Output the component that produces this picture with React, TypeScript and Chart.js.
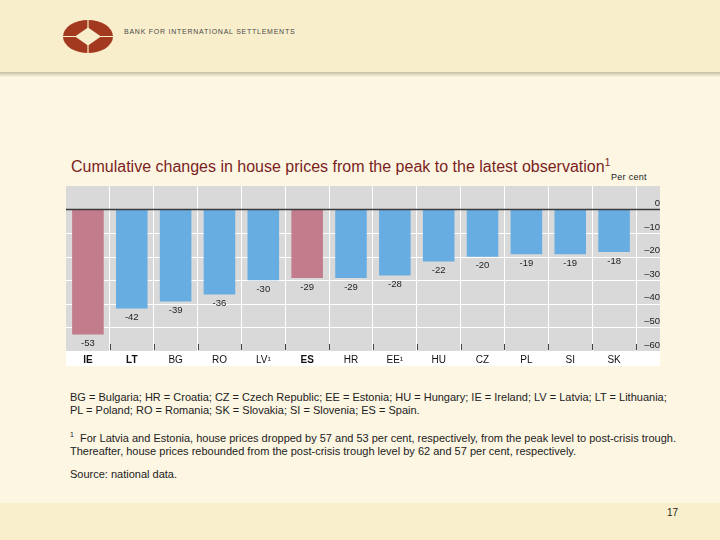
import React, { useEffect, useRef } from 'react'
import Chart from 'chart.js/auto'

// Country codes and cumulative change (per cent) from peak to latest observation
const countries = ['IE', 'LT', 'BG', 'RO', 'LV¹', 'ES', 'HR', 'EE¹', 'HU', 'CZ', 'PL', 'SI', 'SK']
const changes = [-53, -42, -39, -36, -30, -29, -29, -28, -22, -20, -19, -19, -18]
const highlighted = ['IE', 'ES']
const yMin = -60
const yMax = 10
const yStep = 10

const BLUE = '#68ade2'
const PINK = '#c27c8c'
const GREY = '#d9d9d9'

const pageFont = '"Liberation Sans", Arial, sans-serif'

const App = () => {
  const chartRef = useRef<HTMLCanvasElement>(null)

  useEffect(() => {
    if (!chartRef.current) return
    const ctx = chartRef.current.getContext('2d')
    if (!ctx) return

    // backgrounds, extended gridlines, zero line, bottom ticks and value labels
    const decor = {
      id: 'decor',
      beforeDraw(chart: any) {
        const { ctx, chartArea, width, height } = chart
        ctx.save()
        ctx.fillStyle = GREY
        ctx.fillRect(chartArea.left, chartArea.top, width - chartArea.left, chartArea.bottom - chartArea.top)
        ctx.fillStyle = '#ffffff'
        ctx.fillRect(chartArea.left, chartArea.bottom, width - chartArea.left, height - chartArea.bottom)
        ctx.restore()
      },
      beforeDatasetsDraw(chart: any) {
        const { ctx, chartArea, width } = chart
        const y = chart.scales.y
        ctx.save()
        ctx.strokeStyle = '#ffffff'
        ctx.lineWidth = 1
        y.ticks.forEach((t: any) => {
          if (t.value === 0 || t.value === yMax) return
          const py = Math.round(y.getPixelForValue(t.value)) + 0.5
          ctx.beginPath()
          ctx.moveTo(chartArea.left, py)
          ctx.lineTo(width, py)
          ctx.stroke()
        })
        ctx.restore()
      },
      afterDatasetsDraw(chart: any) {
        const { ctx, chartArea, width } = chart
        const x = chart.scales.x
        const y = chart.scales.y
        ctx.save()
        // zero line
        const zy = y.getPixelForValue(0)
        ctx.strokeStyle = '#3a3a3a'
        ctx.lineWidth = 1.5
        ctx.beginPath()
        ctx.moveTo(chartArea.left, zy)
        ctx.lineTo(width, zy)
        ctx.stroke()
        // short dark ticks at category boundaries
        ctx.strokeStyle = '#444'
        ctx.lineWidth = 1
        for (let i = 1; i <= countries.length; i++) {
          const bx = Math.round((x.getPixelForValue(i - 1) + x.getPixelForValue(i)) / 2) + 0.5
          ctx.beginPath()
          ctx.moveTo(bx, chartArea.bottom - 7)
          ctx.lineTo(bx, chartArea.bottom - 1)
          ctx.stroke()
        }
        // value labels under bar ends
        ctx.fillStyle = '#1e1e1e'
        ctx.font = `9.5px ${pageFont}`
        ctx.textAlign = 'center'
        ctx.textBaseline = 'middle'
        chart.getDatasetMeta(0).data.forEach((bar: any, i: number) => {
          ctx.fillText(String(changes[i]), bar.x, bar.y + 9)
        })
        ctx.restore()
      },
    }

    const chart = new Chart(ctx, {
      type: 'bar',
      data: {
        labels: countries,
        datasets: [
          {
            data: changes,
            backgroundColor: countries.map((c) => (highlighted.includes(c) ? PINK : BLUE)),
            borderWidth: 0,
            barPercentage: 0.72,
            categoryPercentage: 1,
          },
        ],
      },
      options: {
        animation: false,
        responsive: false,
        maintainAspectRatio: false,
        layout: { padding: 0 },
        plugins: {
          legend: { display: false },
          tooltip: { enabled: false },
        },
        scales: {
          x: {
            border: { display: false },
            grid: {
              display: true,
              color: '#ffffff',
              lineWidth: 1,
              drawTicks: false,
              offset: true,
            },
            ticks: {
              padding: 3,
              color: '#111',
              font: (c: any) => ({
                size: 10,
                family: pageFont,
                weight: ['IE', 'LT', 'ES'].includes(countries[c.index]) ? 'bold' : 'normal',
              }),
            },
            afterFit: (scale: any) => {
              scale.height = 15
            },
          },
          y: {
            position: 'right',
            min: yMin,
            max: yMax,
            border: { display: false },
            grid: { display: false, drawTicks: false },
            ticks: {
              stepSize: yStep,
              padding: 2,
              crossAlign: 'far',
              labelOffset: -6,
              color: '#222',
              font: { size: 9.5, family: pageFont },
              callback: (v: any) => {
                if (v === yMax) return null
                if (v === 0) return '0'
                return '\u2013' + Math.abs(v)
              },
            },
            afterFit: (scale: any) => {
              scale.width = 24
              scale.paddingTop = 0
              scale.paddingBottom = 0
            },
          },
        },
      },
      plugins: [decor],
    })

    return () => {
      chart.destroy()
    }
  }, [])

  const abs = (extra: React.CSSProperties): React.CSSProperties => ({
    position: 'absolute',
    whiteSpace: 'nowrap',
    fontFamily: pageFont,
    ...extra,
  })

  return (
    <div style={{ position: 'fixed', left: 0, top: 0, width: 720, height: 540, background: '#fdf6e3', overflow: 'hidden' }}>
      {/* header */}
      <div style={abs({ left: 0, top: 0, width: 720, height: 72, background: '#f9eecb' })} />
      <div style={abs({ left: 0, top: 72, width: 720, height: 5, background: 'linear-gradient(#c5bea3, #fdf6e3)' })} />
      <svg style={{ position: 'absolute', left: 62, top: 19 }} width={52} height={35} viewBox="0 0 52 35">
        <ellipse cx={26} cy={17.5} rx={25} ry={16.5} fill="#a33a20" />
        <polygon points="26,8.5 39,17.5 26,26.5 13,17.5" fill="#f9eecb" />
        <line x1={26} y1={0} x2={26} y2={35} stroke="#f9eecb" strokeWidth={1.2} />
        <line x1={0} y1={17.5} x2={52} y2={17.5} stroke="#f9eecb" strokeWidth={1.2} />
      </svg>
      <div style={abs({ left: 124, top: 28, fontSize: 7, letterSpacing: 0.75, color: '#4a4a4a' })}>
        BANK FOR INTERNATIONAL SETTLEMENTS
      </div>

      {/* title */}
      <div style={abs({ left: 71, top: 157, fontSize: 16, color: '#7a1e1e' })}>
        Cumulative changes in house prices from the peak to the latest observation
        <sup style={{ fontSize: 10 }}>1</sup>
      </div>
      <div style={abs({ left: 611, top: 172, fontSize: 9, letterSpacing: 0.3, color: '#222' })}>Per cent</div>

      {/* chart */}
      <canvas
        ref={chartRef}
        width={594}
        height={180}
        style={{ position: 'absolute', left: 66, top: 186, width: 594, height: 180 }}
      />

      {/* notes */}
      <div style={abs({ left: 70, top: 391, fontSize: 11, lineHeight: '13px', color: '#222' })}>
        BG = Bulgaria; HR = Croatia; CZ = Czech Republic; EE = Estonia; HU = Hungary; IE = Ireland; LV = Latvia; LT = Lithuania;
        <br />
        PL = Poland; RO = Romania; SK = Slovakia; SI = Slovenia; ES = Spain.
      </div>
      <div style={abs({ left: 70, top: 428, fontSize: 11, lineHeight: '13px', color: '#222' })}>
        <sup style={{ fontSize: 7 }}>1</sup>&nbsp; For Latvia and Estonia, house prices dropped by 57 and 53 per cent, respectively, from the peak level to post-crisis trough.
        <br />
        Thereafter, house prices rebounded from the post-crisis trough level by 62 and 57 per cent, respectively.
      </div>
      <div style={abs({ left: 70, top: 468, fontSize: 11, color: '#222' })}>Source: national data.</div>

      {/* footer */}
      <div style={abs({ left: 0, top: 503, width: 720, height: 37, background: '#f9efcc' })} />
      <div style={abs({ left: 667, top: 507, fontSize: 10, color: '#222' })}>17</div>
    </div>
  )
}

export default App
